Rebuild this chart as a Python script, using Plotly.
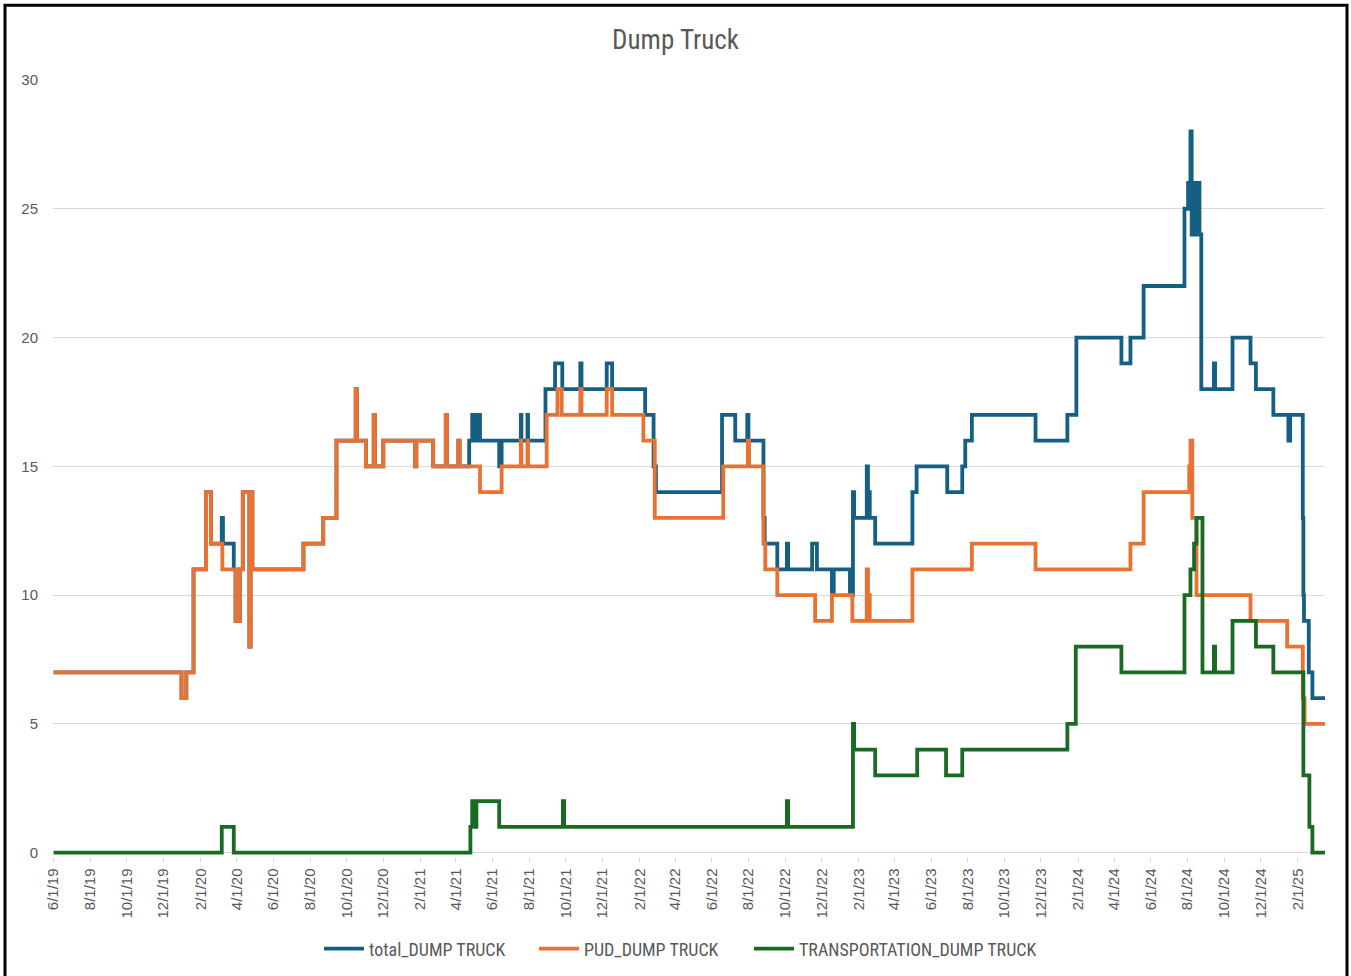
import plotly.graph_objects as go

title_text = "Dump Truck"
series_names = ["total_DUMP TRUCK", "PUD_DUMP TRUCK", "TRANSPORTATION_DUMP TRUCK"]
series_colors = ["#156082", "#E97132", "#196B24"]

total_dates = [
    "2019-06-01", "2019-12-31", "2020-01-08", "2020-01-20", "2020-02-10", "2020-02-18",
    "2020-03-07", "2020-03-09", "2020-03-27", "2020-03-30", "2020-04-06", "2020-04-11",
    "2020-04-22", "2020-04-24", "2020-04-27", "2020-07-21", "2020-08-23", "2020-09-14",
    "2020-10-16", "2020-10-18", "2020-11-02", "2020-11-15", "2020-11-17", "2020-12-01",
    "2021-01-23", "2021-01-25", "2021-02-22", "2021-03-15", "2021-03-17", "2021-04-05",
    "2021-04-07", "2021-04-23", "2021-04-28", "2021-05-02", "2021-05-05", "2021-05-11",
    "2021-06-12", "2021-06-16", "2021-07-18", "2021-07-19", "2021-07-29", "2021-07-30",
    "2021-08-28", "2021-09-13", "2021-09-25", "2021-10-25", "2021-10-27", "2021-12-08",
    "2021-12-17", "2022-02-10", "2022-02-24", "2022-02-28", "2022-06-18", "2022-07-10",
    "2022-07-30", "2022-08-01", "2022-08-26", "2022-08-28", "2022-09-18", "2022-10-04",
    "2022-10-06", "2022-11-15", "2022-11-23", "2022-12-18", "2022-12-21", "2023-01-17",
    "2023-01-22", "2023-01-24", "2023-02-14", "2023-02-16", "2023-02-19", "2023-02-28",
    "2023-05-01", "2023-05-08", "2023-06-28", "2023-07-23", "2023-07-28", "2023-08-08",
    "2023-11-22", "2024-01-14", "2024-01-29", "2024-04-13", "2024-04-28", "2024-05-20",
    "2024-07-27", "2024-08-02", "2024-08-06", "2024-08-08", "2024-08-10", "2024-08-14",
    "2024-08-15", "2024-08-21", "2024-08-24", "2024-09-14", "2024-09-16", "2024-10-15",
    "2024-11-14", "2024-11-23", "2024-12-22", "2025-01-16", "2025-01-19", "2025-02-09",
    "2025-02-10", "2025-02-11", "2025-02-19", "2025-02-25", "2025-03-18",
]
total_values = [
    7, 6, 7, 11, 14, 12,
    13, 12, 11, 9, 11, 14,
    8, 14, 11, 12, 13, 16,
    18, 16, 15, 17, 15, 16,
    15, 16, 15, 17, 15, 16,
    15, 16, 17, 16, 17, 16,
    15, 16, 17, 16, 17, 16,
    18, 19, 18, 19, 18, 19,
    18, 17, 15, 14, 17, 16,
    17, 16, 13, 12, 11, 12,
    11, 12, 11, 10, 11, 10,
    14, 13, 15, 14, 13, 12,
    14, 15, 14, 15, 16, 17,
    16, 17, 20, 19, 20, 22,
    25, 26, 28, 24, 26, 24,
    26, 24, 18, 19, 18, 20,
    19, 18, 17, 16, 17, 13,
    10, 9, 7, 6, 6,
]

pud_dates = [
    "2019-06-01", "2019-12-31", "2020-01-08", "2020-01-20", "2020-02-10", "2020-02-18",
    "2020-03-08", "2020-03-30", "2020-04-06", "2020-04-11", "2020-04-22", "2020-04-24",
    "2020-04-27", "2020-07-21", "2020-08-23", "2020-09-14", "2020-10-16", "2020-10-18",
    "2020-11-02", "2020-11-15", "2020-11-17", "2020-12-01", "2021-01-23", "2021-01-25",
    "2021-02-22", "2021-03-15", "2021-03-17", "2021-04-05", "2021-04-07", "2021-05-11",
    "2021-06-16", "2021-07-18", "2021-07-19", "2021-07-29", "2021-07-30", "2021-08-30",
    "2021-09-17", "2021-09-24", "2021-10-25", "2021-10-27", "2021-12-08", "2021-12-17",
    "2022-02-07", "2022-02-26", "2022-06-20", "2022-07-31", "2022-08-02", "2022-08-26",
    "2022-08-29", "2022-09-18", "2022-11-20", "2022-12-18", "2023-01-21", "2023-02-14",
    "2023-02-16", "2023-02-19", "2023-05-01", "2023-08-08", "2023-11-22", "2024-04-28",
    "2024-05-20", "2024-08-04", "2024-08-06", "2024-08-09", "2024-08-16", "2024-11-14",
    "2025-01-14", "2025-02-09", "2025-02-12", "2025-03-18",
]
pud_values = [
    7, 6, 7, 11, 14, 12,
    11, 9, 11, 14, 8, 14,
    11, 12, 13, 16, 18, 16,
    15, 17, 15, 16, 15, 16,
    15, 17, 15, 16, 15, 14,
    15, 16, 15, 16, 15, 17,
    18, 17, 18, 17, 18, 17,
    16, 13, 15, 16, 15, 12,
    11, 10, 9, 10, 9, 11,
    10, 9, 11, 12, 11, 12,
    14, 15, 16, 13, 10, 9,
    8, 6, 5, 5,
]

trans_dates = [
    "2019-06-01", "2020-03-07", "2020-03-27", "2021-04-25", "2021-04-28", "2021-05-02",
    "2021-05-05", "2021-06-12", "2021-09-26", "2021-09-28", "2022-10-04", "2022-10-06",
    "2023-01-22", "2023-01-24", "2023-02-28", "2023-05-09", "2023-06-26", "2023-07-23",
    "2024-01-14", "2024-01-28", "2024-04-13", "2024-07-27", "2024-08-06", "2024-08-12",
    "2024-08-16", "2024-08-26", "2024-09-14", "2024-09-16", "2024-10-15", "2024-11-23",
    "2024-12-22", "2025-02-10", "2025-02-20", "2025-02-25", "2025-03-18",
]
trans_values = [
    0, 1, 0, 1, 2, 1,
    2, 1, 2, 1, 2, 1,
    5, 4, 3, 4, 3, 4,
    5, 8, 7, 10, 11, 12,
    13, 7, 8, 7, 9, 8,
    7, 3, 1, 0, 0,
]

y_ticks = [0, 5, 10, 15, 20, 25, 30]
x_start = "2019-05-31"
x_end = "2025-03-18"

W, H = 1351, 976
ML, MR, MT, MB = 53, 26, 80, 118

grey = "#595959"
narrow = "Liberation Sans Narrow, Roboto Condensed, Arial Narrow, Roboto, sans-serif"

legend_ids = ["legend", "legend2", "legend3"]
legend_left_px = [319, 534, 749]

fig = go.Figure()
for name, d, v, c, lg in zip(series_names,
                              [total_dates, pud_dates, trans_dates],
                              [total_values, pud_values, trans_values],
                              series_colors, legend_ids):
    fig.add_trace(go.Scatter(x=d, y=v, mode="lines", name=name, legend=lg,
                             line=dict(color=c, width=3.8, shape="hv")))

legend_style = dict(orientation="h", xanchor="left", xref="container",
                    y=1 - 949 / H, yref="container", yanchor="middle",
                    font=dict(family=narrow, size=18, color=grey),
                    itemwidth=40, bgcolor="rgba(0,0,0,0)")
legends = {lg: dict(legend_style, x=px / W) for lg, px in zip(legend_ids, legend_left_px)}

fig.update_layout(
    width=W, height=H,
    margin=dict(l=ML, r=MR, t=MT, b=MB),
    paper_bgcolor="white", plot_bgcolor="white",
    title=dict(text=title_text, x=0.5, xref="container", xanchor="center",
               y=1 - 40 / H, yref="container", yanchor="middle",
               font=dict(family=narrow, size=27, color=grey)),
    showlegend=True,
    xaxis=dict(type="date", range=[x_start, x_end], tick0="2019-06-01", dtick="M2",
               tickformat="%-m/%-d/%y", tickangle=-90,
               tickfont=dict(family="Liberation Sans, Arial, sans-serif", size=15, color=grey),
               showgrid=False, showline=False, ticks="outside", ticklen=5,
               tickcolor="#D9D9D9", zeroline=False),
    yaxis=dict(range=[-0.15, 30], tickvals=y_ticks, showgrid=True, gridcolor="#D9D9D9",
               gridwidth=1, zeroline=False, showline=False, ticks="",
               tickfont=dict(family="Liberation Sans, Arial, sans-serif", size=15, color=grey),
               ticklabelstandoff=14),
    **legends,
)

# black frame around the whole chart image
pw = W - ML - MR
ph = H - MT - MB
fig.add_shape(type="rect", xref="paper", yref="paper",
              x0=(5 - ML) / pw, x1=(W - 4 - ML) / pw,
              y0=(H - MB - 985) / ph, y1=(H - MB - 5) / ph,
              line=dict(color="black", width=3), fillcolor="rgba(0,0,0,0)", layer="above")

fig.write_html("out.html", config={"displayModeBar": False},
               post_script="document.body.style.margin='0px';document.body.style.overflow='hidden';")
